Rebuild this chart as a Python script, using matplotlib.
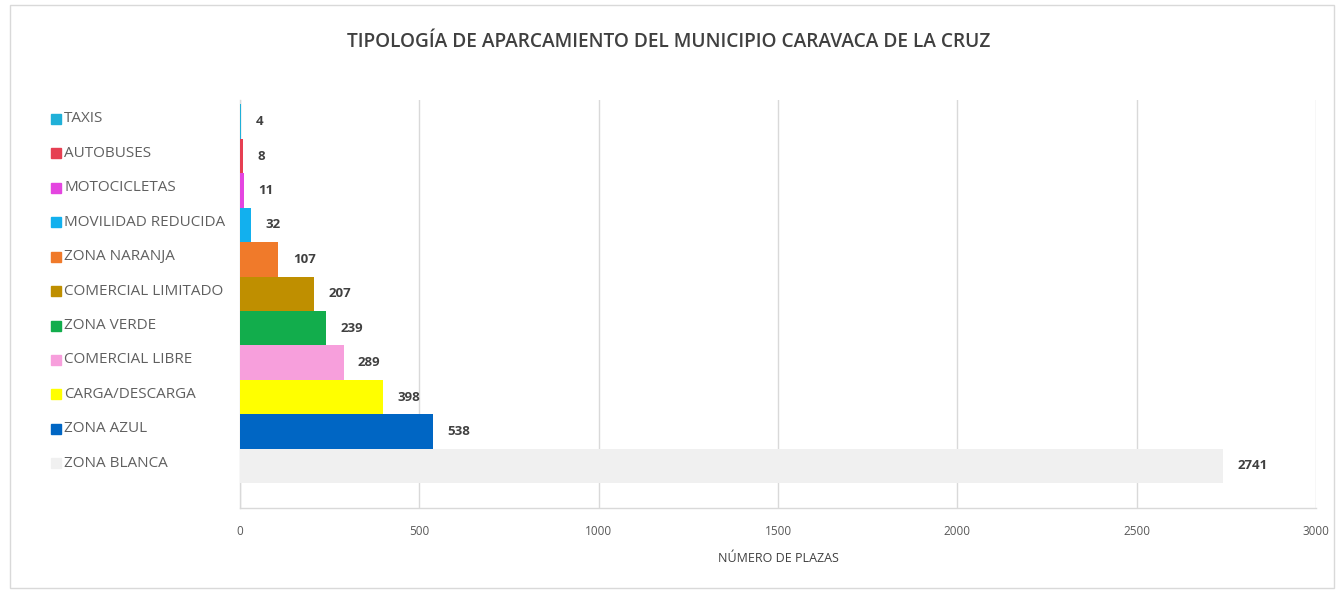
import matplotlib

matplotlib.use("Agg")
import matplotlib.pyplot as plt
import matplotlib.transforms as mtransforms
from matplotlib.patches import Rectangle

# categories, bottom row first
categorias = [
    "ZONA BLANCA",
    "ZONA AZUL",
    "CARGA/DESCARGA",
    "COMERCIAL LIBRE",
    "ZONA VERDE",
    "COMERCIAL LIMITADO",
    "ZONA NARANJA",
    "MOVILIDAD REDUCIDA",
    "MOTOCICLETAS",
    "AUTOBUSES",
    "TAXIS",
]
plazas = [2741, 538, 398, 289, 239, 207, 107, 32, 11, 8, 4]
colores = [
    "#f0f0f0",
    "#0066c4",
    "#ffff00",
    "#f79fdc",
    "#12ad4c",
    "#bf8f00",
    "#f07a2a",
    "#12b0ee",
    "#e445e0",
    "#e63f52",
    "#20b0d8",
]
xticks = [0, 500, 1000, 1500, 2000, 2500, 3000]

W, H = 1344, 591
fig = plt.figure(figsize=(W / 100, H / 100), dpi=100)
fig.patch.set_facecolor("white")

# light frame around the whole chart
fig.patches.append(
    Rectangle((10 / W, 1 - 588 / H), 1324 / W, 583 / H, transform=fig.transFigure,
              fill=False, edgecolor="#d9d9d9", linewidth=1.0)
)

ax = fig.add_axes([240 / W, 1 - 508 / H, 1076 / W, 408 / H])
y = list(range(len(categorias)))
ax.barh(y, plazas, height=1.0, color=colores, zorder=2)

for yi, v in zip(y, plazas):
    ax.text(v + 40, yi, str(v), va="center", ha="left", fontsize=9.5,
            fontweight="bold", color="#404040", family="Open Sans")

ax.set_xlim(0, 3000)
ax.set_ylim(-1.22, 10.63)
ax.set_xticks(xticks)
ax.set_xticklabels([str(t) for t in xticks], fontsize=8.5, color="#595959",
                   family="Open Sans")
ax.tick_params(axis="x", length=0, pad=12)
ax.set_yticks([])
ax.grid(axis="x", color="#d9d9d9", linewidth=1.0, zorder=0)
for side in ["top", "right"]:
    ax.spines[side].set_visible(False)
for side in ["left", "bottom"]:
    ax.spines[side].set_color("#d9d9d9")
    ax.spines[side].set_linewidth(1.0)
    ax.spines[side].set_zorder(1)

ax.set_xlabel("NÚMERO DE PLAZAS", fontsize=9, color="#404040",
              family="Open Sans", labelpad=10)

# category keys on the left, aligned with each bar
trans = mtransforms.blended_transform_factory(fig.transFigure, ax.transData)
for yi, nombre, c in zip(y, categorias, colores):
    ax.plot([56 / W], [yi + 0.08], marker="s", markersize=6.5, color=c,
            transform=trans, clip_on=False, linestyle="none")
    ax.text(64 / W, yi + 0.08, nombre, transform=trans, va="center", ha="left",
            fontsize=11, color="#606060", family="Open Sans", clip_on=False)

fig.text(669 / W, 1 - 42 / H,
         "TIPOLOGÍA DE APARCAMIENTO DEL MUNICIPIO CARAVACA DE LA CRUZ",
         ha="center", va="center", fontsize=13.8, fontweight="semibold",
         color="#404040", family="Open Sans")

fig.savefig("out.png", dpi=100)
plt.close(fig)
